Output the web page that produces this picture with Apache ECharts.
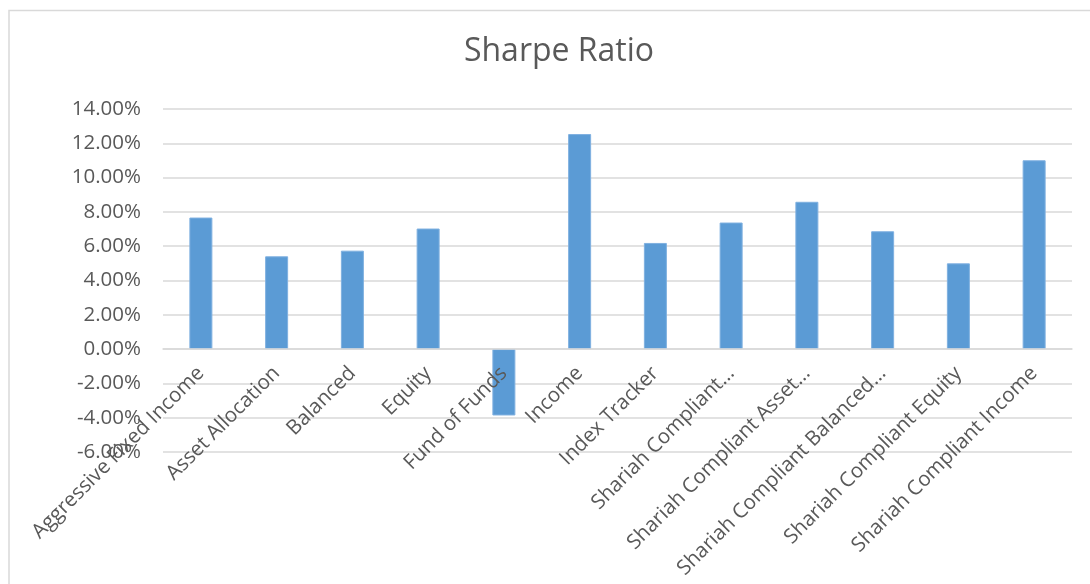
<!DOCTYPE html>
<html>
<head>
<meta charset="utf-8">
<script src="https://cdn.jsdelivr.net/npm/echarts@6/dist/echarts.min.js"></script>
<style>
html,body{margin:0;padding:0;background:#fff;}
#chart{width:1090px;height:584px;}
</style>
</head>
<body>
<div id="chart"></div>
<script>
const chartTitle = 'Sharpe Ratio';
const categories = [
  'Aggressive Fixed Income',
  'Asset Allocation',
  'Balanced',
  'Equity',
  'Fund of Funds',
  'Income',
  'Index Tracker',
  'Shariah Compliant…',
  'Shariah Compliant Asset…',
  'Shariah Compliant Balanced…',
  'Shariah Compliant Equity',
  'Shariah Compliant Income'
];
const sharpeValues = [0.0767, 0.0541, 0.0574, 0.0703, -0.0387, 0.1254, 0.0619, 0.0738, 0.0859, 0.0687, 0.0500, 0.1101];
const yMin = -0.06, yMax = 0.14, yStep = 0.02;

const gridTop = 109, gridBottom = 132, chartH = 584;
const gridH = chartH - gridTop - gridBottom;
// shift the category axis up to the zero line (fraction of the range below zero)
const zeroOffset = -gridH * (0 - yMin) / (yMax - yMin);

const chart = echarts.init(document.getElementById('chart'));
chart.setOption({
  animation: false,
  backgroundColor: '#ffffff',
  textStyle: { fontFamily: 'Open Sans' },
  graphic: [{
    type: 'rect',
    shape: { x: 9, y: 10.5, width: 1100, height: 600 },
    style: { fill: 'none', stroke: '#d9d9d9', lineWidth: 1.5 },
    silent: true
  }],
  title: {
    text: chartTitle,
    left: 554,
    top: 31,
    textAlign: 'center',
    textStyle: { fontFamily: 'Open Sans', fontSize: 32, fontWeight: 'normal', color: '#595959' }
  },
  grid: { left: 163, right: 18, top: gridTop, bottom: gridBottom, containLabel: false, outerBoundsMode: 'none' },
  xAxis: {
    type: 'category',
    data: categories,
    offset: zeroOffset,
    z: 5,
    axisLine: { show: true, onZero: false, lineStyle: { color: '#d9d9d9', width: 1.5 } },
    axisTick: { show: false },
    axisLabel: {
      rotate: 45,
      interval: 0,
      margin: 21,
      color: '#595959',
      fontFamily: 'Open Sans',
      fontSize: 20.5
    },
    splitLine: { show: false }
  },
  yAxis: {
    type: 'value',
    min: yMin,
    max: yMax,
    interval: yStep,
    axisLine: { show: false },
    axisTick: { show: false },
    axisLabel: {
      margin: 22,
      color: '#595959',
      fontFamily: 'Open Sans',
      fontSize: 20.5,
      formatter: v => (v * 100).toFixed(2) + '%'
    },
    splitLine: { lineStyle: { color: '#d9d9d9', width: 1.5 } }
  },
  series: [{
    type: 'bar',
    data: sharpeValues,
    barWidth: 23,
    itemStyle: { color: '#5b9bd5', borderColor: '#7fb0e0', borderWidth: 1 }
  }]
});
</script>
</body>
</html>
